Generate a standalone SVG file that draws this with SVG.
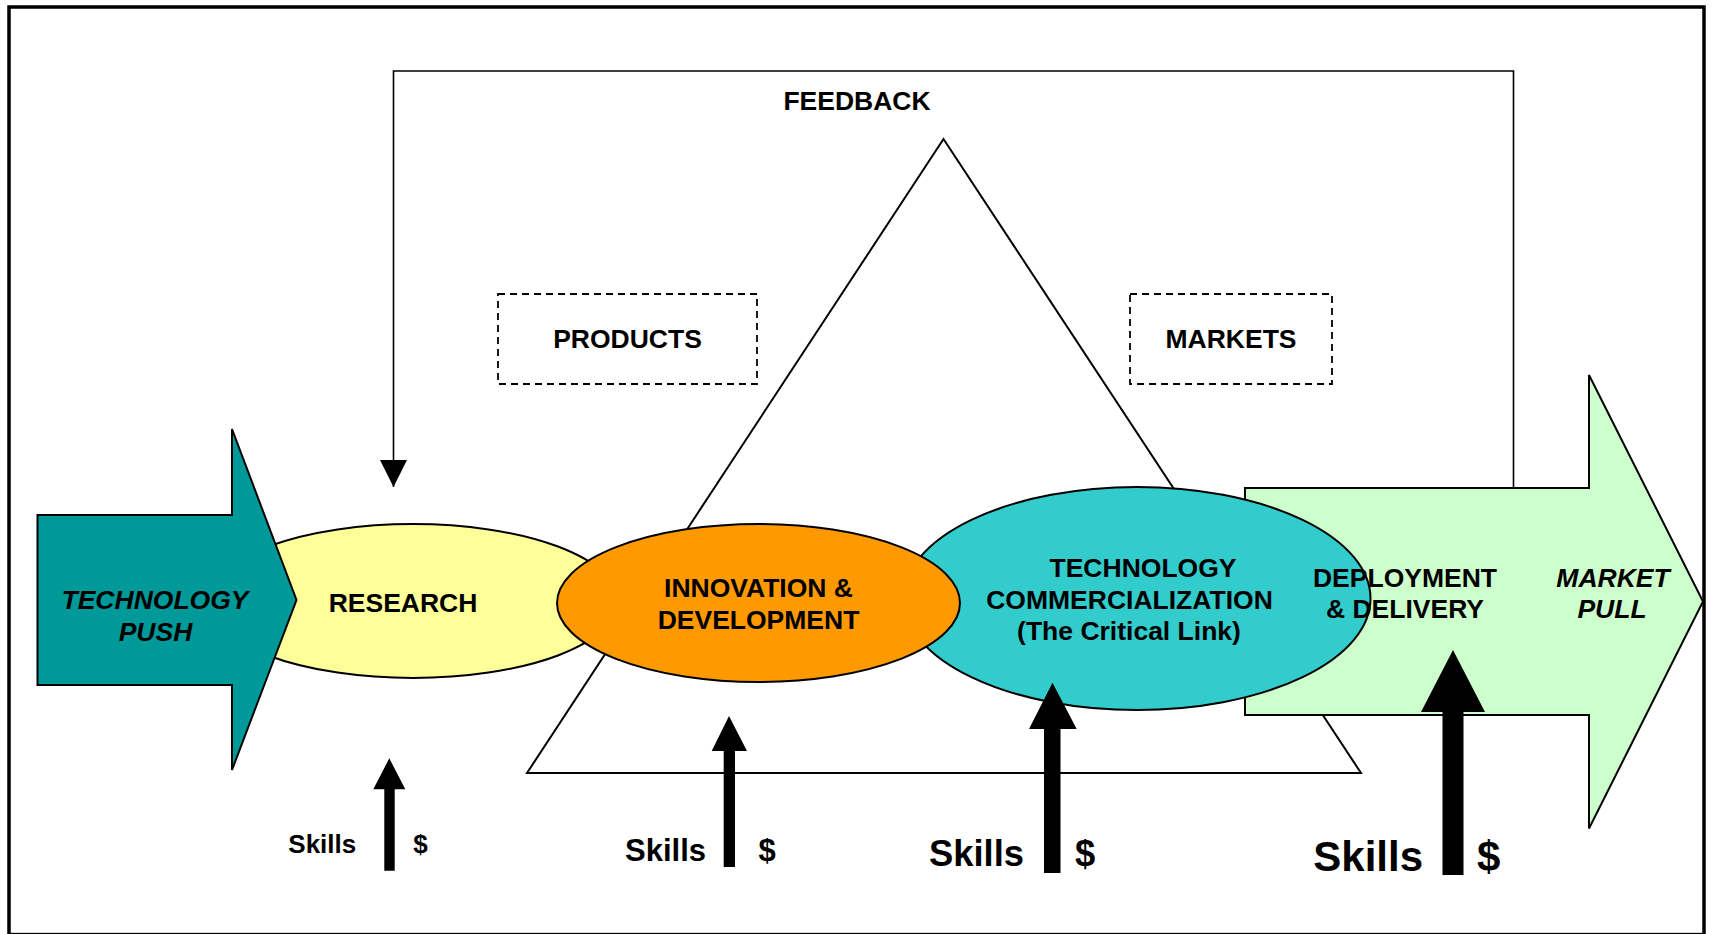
<svg xmlns="http://www.w3.org/2000/svg" width="1712" height="934" viewBox="0 0 1712 934">
<defs>
<style>
text{font-family:"Liberation Sans",Arial,sans-serif;font-weight:bold;fill:#000}
.lbl{font-size:26.5px;text-anchor:middle}
.it{font-style:italic}
.shape{stroke:#000;stroke-width:2}
.dash{fill:#fff;stroke:#000;stroke-width:1.8;stroke-dasharray:7 5}
.blk{fill:#000;stroke:none}
</style>
<marker id="fbhead" markerUnits="userSpaceOnUse" markerWidth="27" markerHeight="27" viewBox="0 0 26 26" refX="26" refY="13" orient="auto">
<path d="M0,0 L26,13 L0,26 z" fill="#000"/>
</marker>
</defs>
<rect width="1712" height="934" fill="#fff"/>
<rect id="frame" x="9" y="7" width="1695" height="927.6" fill="none" stroke="#000" stroke-width="3.5"/>

<g id="connectors">
<path id="feedback-loop" d="M1513.5,488 V71 H393.5 V487" fill="none" stroke="#000" stroke-width="1.6" marker-end="url(#fbhead)"/>
</g>

<g id="triangle">
<polygon points="943.5,139 1361,773 527,773" fill="#fff" stroke="#000" stroke-width="2"/>
</g>

<g id="products">
<rect class="dash" x="498" y="294" width="259" height="90"/>
<text class="lbl" x="627.5" y="348">PRODUCTS</text>
</g>

<g id="markets">
<rect class="dash" x="1130" y="294" width="202" height="90"/>
<text class="lbl" x="1231" y="348">MARKETS</text>
</g>

<g id="feedback-label">
<text class="lbl" x="857" y="110">FEEDBACK</text>
</g>

<g id="market-pull">
<polygon class="shape" points="1245,488 1589,488 1589,375 1703,601.5 1589,828.5 1589,715 1245,715" fill="#CCFFCC"/>
</g>

<g id="commercialization">
<ellipse class="shape" cx="1137" cy="598.5" rx="233.5" ry="111.5" fill="#33CCCC"/>
<text class="lbl" x="1143" y="577">TECHNOLOGY</text>
<text class="lbl" x="1129.5" y="608.5">COMMERCIALIZATION</text>
<text class="lbl" x="1129" y="640">(The Critical Link)</text>
</g>

<g id="market-pull-labels">
<text class="lbl" x="1405" y="587">DEPLOYMENT</text>
<text class="lbl" x="1405" y="618">&amp; DELIVERY</text>
<text class="lbl it" x="1613" y="587">MARKET</text>
<text class="lbl it" x="1612" y="618">PULL</text>
</g>

<g id="research">
<ellipse class="shape" cx="413" cy="601" rx="205" ry="77" fill="#FFFF99"/>
<text class="lbl" x="403" y="612">RESEARCH</text>
</g>

<g id="technology-push">
<polygon class="shape" points="37.5,515 232,515 232,429 296.5,600 232,770 232,685 37.5,685" fill="#009999"/>
<text class="lbl it" x="155" y="609">TECHNOLOGY</text>
<text class="lbl it" x="155.5" y="641">PUSH</text>
</g>

<g id="innovation">
<ellipse class="shape" cx="758.5" cy="603" rx="201.5" ry="79" fill="#FF9900"/>
<text class="lbl" x="758.5" y="597">INNOVATION &amp;</text>
<text class="lbl" x="758.5" y="629">DEVELOPMENT</text>
</g>

<g id="inputs">
<g id="input-research">
<polygon class="blk" points="389.3,758.3 405.3,789.3 394.7,789.3 394.7,870.7 384.3,870.7 384.3,789.3 373.3,789.3"/>
<text x="288.3" y="853.3" style="font-size:26px">Skills</text>
<text x="413.3" y="853.3" style="font-size:26px">$</text>
</g>
<g id="input-innovation">
<polygon class="blk" points="729,716 747,751 735,751 735,867 723.7,867 723.7,751 711.7,751"/>
<text x="625" y="860.5" style="font-size:31px">Skills</text>
<text x="758.5" y="860.5" style="font-size:31px">$</text>
</g>
<g id="input-commercialization">
<polygon class="blk" points="1052.5,682.7 1076.7,729 1060.5,729 1060.5,873 1044,873 1044,729 1029,729"/>
<text x="929" y="865.6" style="font-size:36.4px">Skills</text>
<text x="1075" y="865.6" style="font-size:36.4px">$</text>
</g>
<g id="input-deployment">
<polygon class="blk" points="1453,650 1485,712 1463.5,712 1463.5,875 1442.5,875 1442.5,712 1421,712"/>
<text x="1313.3" y="871" style="font-size:42px">Skills</text>
<text x="1477" y="871" style="font-size:42px">$</text>
</g>
</g>
</svg>
